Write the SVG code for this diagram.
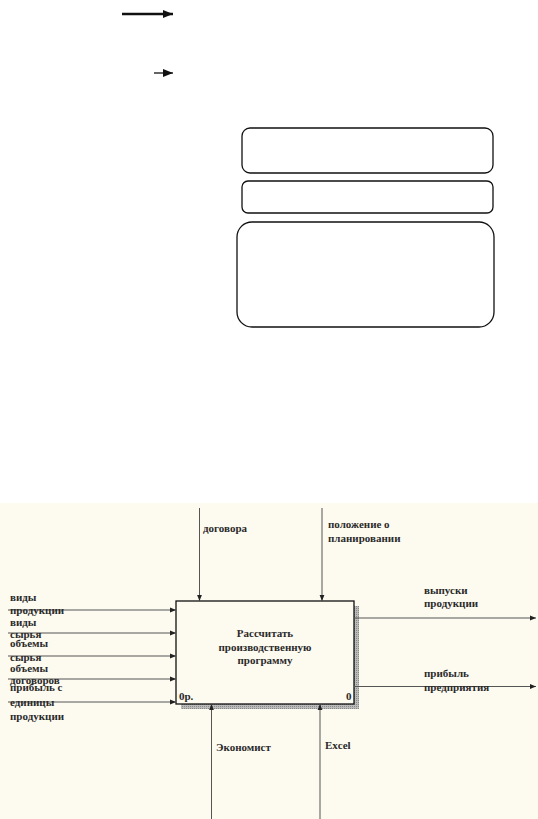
<svg xmlns="http://www.w3.org/2000/svg" width="538" height="819" viewBox="0 0 538 819">
<defs>
<style>
.t{font-family:"Liberation Serif",serif;font-weight:bold;font-size:11px;fill:#2a2a2a}
.ln{stroke:#555;stroke-width:1;fill:none}
.rr{fill:#fff;stroke:#111;stroke-width:1.3}
</style>
<marker id="ah" viewBox="0 0 10 10" refX="10" refY="5" markerWidth="6" markerHeight="6" markerUnits="userSpaceOnUse" orient="auto"><path d="M0,1 L10,5 L0,9 z" fill="#222"/></marker>
<marker id="ahb" viewBox="0 0 10 10" refX="10" refY="5" markerWidth="10" markerHeight="10" markerUnits="userSpaceOnUse" orient="auto"><path d="M0,1 L10,5 L0,9 z" fill="#111"/></marker>
<pattern id="hatch" width="2" height="2" patternUnits="userSpaceOnUse"><rect width="2" height="2" fill="#bbb"/><rect width="1" height="1" fill="#888"/></pattern>
</defs>
<rect width="538" height="819" fill="#fff"/>
<g id="legend">
<line x1="122" y1="14" x2="173" y2="14" stroke="#111" stroke-width="2.5" marker-end="url(#ahb)"/>
<line x1="154" y1="73" x2="173" y2="73" stroke="#111" stroke-width="1.3" marker-end="url(#ahb)"/>
</g>
<g id="boxes">
<rect class="rr" x="242" y="128" width="251" height="45" rx="8"/>
<rect class="rr" x="242" y="181" width="251" height="32" rx="6"/>
<rect class="rr" x="237" y="222" width="257" height="105" rx="15"/>
</g>
<rect x="0" y="503" width="538" height="316" fill="#fdfaf0"/>
<g id="activity">
<rect x="181" y="606" width="178" height="103" fill="url(#hatch)"/>
<rect x="176" y="601" width="178" height="103" fill="#fdfaf0" stroke="#111" stroke-width="1.3"/>
<text class="t" text-anchor="middle" x="265" y="637">Рассчитать</text>
<text class="t" text-anchor="middle" x="265" y="651">производственную</text>
<text class="t" text-anchor="middle" x="265" y="664">программу</text>
<text class="t" x="179" y="700">0р.</text>
<text class="t" x="346" y="700">0</text>
</g>
<g id="connectors">
<line class="ln" x1="199.5" y1="508" x2="199.5" y2="601" marker-end="url(#ah)"/>
<line class="ln" x1="322" y1="508" x2="322" y2="601" marker-end="url(#ah)"/>
<line class="ln" x1="8" y1="610" x2="176" y2="610" stroke="#888" marker-end="url(#ah)"/>
<line class="ln" x1="8" y1="633" x2="176" y2="633" marker-end="url(#ah)"/>
<line class="ln" x1="8" y1="656" x2="176" y2="656" marker-end="url(#ah)"/>
<line class="ln" x1="8" y1="679" x2="176" y2="679" marker-end="url(#ah)"/>
<line class="ln" x1="8" y1="702" x2="176" y2="702" marker-end="url(#ah)"/>
<line class="ln" x1="354" y1="618" x2="536" y2="618" marker-end="url(#ah)"/>
<line class="ln" x1="354" y1="686.5" x2="536" y2="686.5" marker-end="url(#ah)"/>
<line class="ln" x1="211.5" y1="819" x2="211.5" y2="704" stroke="#888" marker-end="url(#ah)"/>
<line class="ln" x1="320" y1="819" x2="320" y2="704" stroke="#888" marker-end="url(#ah)"/>
</g>
<g id="labels">
<text class="t" x="203" y="532">договора</text>
<text class="t" x="328" y="528">положение о</text>
<text class="t" x="328" y="542">планировании</text>
<text class="t" x="424" y="594">выпуски</text>
<text class="t" x="424" y="607">продукции</text>
<text class="t" x="424" y="677">прибыль</text>
<text class="t" x="424" y="691">предприятия</text>
<text class="t" x="10" y="601">виды</text>
<text class="t" x="10" y="614">продукции</text>
<text class="t" x="10" y="626">виды</text>
<text class="t" x="10" y="638">сырья</text>
<text class="t" x="10" y="647">объемы</text>
<text class="t" x="10" y="661">сырья</text>
<text class="t" x="10" y="672">объемы</text>
<text class="t" x="10" y="684">договоров</text>
<text class="t" x="10" y="691">прибыль с</text>
<text class="t" x="10" y="706">единицы</text>
<text class="t" x="10" y="720">продукции</text>
<text class="t" x="216" y="751">Экономист</text>
<text class="t" x="325" y="749">Excel</text>
</g>
</svg>
